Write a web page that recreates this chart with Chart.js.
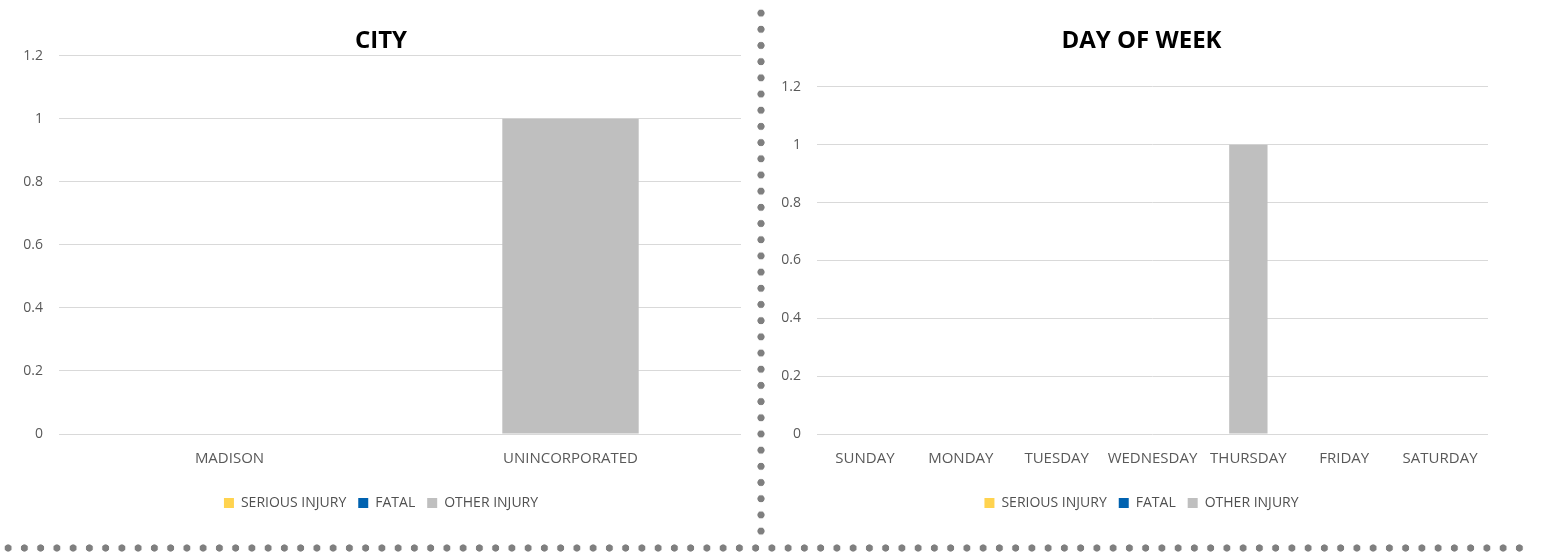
<!DOCTYPE html>
<html>
<head>
<meta charset="utf-8">
<script src="https://cdn.jsdelivr.net/npm/chart.js@4.4.1/dist/chart.umd.min.js"></script>
<style>
  html, body { margin: 0; padding: 0; background: #fff; }
  body { width: 1544px; height: 558px; position: relative; overflow: hidden; }
  .box { position: absolute; top: 0; height: 530px; }
  #left { left: 0; width: 762px; }
  #right { left: 768px; width: 747px; }
  .vdots {
    position: absolute; left: 757px; top: 5px; width: 8px; height: 536px;
    background-image: radial-gradient(circle, #7f7f7f 3.3px, transparent 3.9px);
    background-size: 8px 16.2px;
  }
  .hdots {
    position: absolute; left: 0; top: 544px; width: 1530px; height: 8px;
    background-image: radial-gradient(circle, #7f7f7f 3.3px, transparent 3.9px);
    background-size: 16.25px 8px;
  }
</style>
</head>
<body>
<div class="box" id="left"><canvas id="cityChart"></canvas></div>
<div class="box" id="right"><canvas id="dayChart"></canvas></div>
<div class="vdots"></div>
<div class="hdots"></div>
<script>
// ---- data ----
const cityLabels = ['MADISON', 'UNINCORPORATED'];
const citySerious = [0, 0];
const cityFatal = [0, 0];
const cityOther = [0, 1];

const dayLabels = ['SUNDAY', 'MONDAY', 'TUESDAY', 'WEDNESDAY', 'THURSDAY', 'FRIDAY', 'SATURDAY'];
const daySerious = [0, 0, 0, 0, 0, 0, 0];
const dayFatal = [0, 0, 0, 0, 0, 0, 0];
const dayOther = [0, 0, 0, 0, 1, 0, 0];

const yTickLabels = ['0', '0.2', '0.4', '0.6', '0.8', '1', '1.2'];
const seriesNames = ['SERIOUS INJURY', 'FATAL', 'OTHER INJURY'];
const seriesColors = ['#FFD34F', '#0062B0', '#BFBFBF'];

const FONT = '"Open Sans", "Noto Sans", sans-serif';
const TEXT = '#595959';

function makeDatasets(serious, fatal, other) {
  return [serious, fatal, other].map((d, i) => ({
    label: seriesNames[i],
    data: d,
    backgroundColor: seriesColors[i],
    borderWidth: 0,
    barPercentage: 0.4,
    categoryPercentage: 1.0,
  }));
}

// an empty right-hand axis (spacer) narrows the plot but not the title/legend box,
// so title and legend sit a little right of the plot centre like the original
function makeOptions(title, yWidth, spacerWidth, titleBottom) {
  return {
    responsive: true,
    maintainAspectRatio: false,
    animation: false,
    layout: { padding: { left: 0, right: 0, top: 0, bottom: 10 } },
    plugins: {
      title: {
        display: true, text: title, color: '#000',
        font: { family: FONT, size: 24, weight: 'bold' },
        padding: { top: 27, bottom: titleBottom },
      },
      legend: {
        position: 'bottom',
        labels: {
          color: '#505050', boxWidth: 10, boxHeight: 10, padding: 12,
          font: { family: FONT, size: 14 },
        },
      },
      tooltip: { enabled: false },
    },
    scales: {
      x: {
        stacked: true,
        grid: { display: false, drawTicks: false },
        border: { display: false },
        ticks: { color: TEXT, padding: 16, font: { family: FONT, size: 15 } },
      },
      y: {
        stacked: true,
        min: 0, max: 1.2,
        afterFit: (scale) => { scale.width = yWidth; },
        grid: { color: '#D9D9D9', lineWidth: 1, drawTicks: false },
        border: { display: false },
        ticks: {
          stepSize: 0.2, padding: 16, color: TEXT,
          font: { family: FONT, size: 14 },
          callback: (v, i) => yTickLabels[i],
        },
      },
      spacer: {
        type: 'linear', position: 'right', min: 0, max: 1,
        afterFit: (scale) => { scale.width = spacerWidth; },
        grid: { display: false },
        border: { display: false },
        ticks: { display: false },
      },
    },
  };
}

new Chart(document.getElementById('cityChart'), {
  type: 'bar',
  data: { labels: cityLabels, datasets: makeDatasets(citySerious, cityFatal, cityOther) },
  options: makeOptions('CITY', 59, 21, 0),
});

new Chart(document.getElementById('dayChart'), {
  type: 'bar',
  data: { labels: dayLabels, datasets: makeDatasets(daySerious, dayFatal, dayOther) },
  options: makeOptions('DAY OF WEEK', 49, 27, 31),
});
</script>
</body>
</html>
